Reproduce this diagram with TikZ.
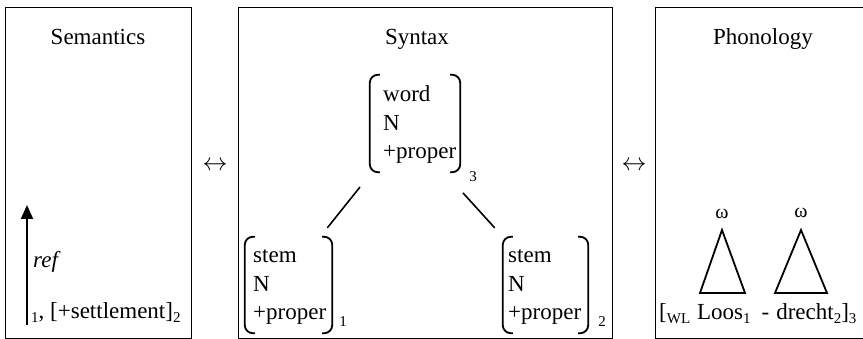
\documentclass[tikz,border=0pt]{standalone}
\usepackage{fontspec}
\setmainfont{Liberation Serif}
\usetikzlibrary{calc,arrows.meta}
\newcommand\sub[1]{\raisebox{-3.5pt}{\fontsize{15}{15}\selectfont #1}}
\newcommand\featbrackets[1]{%
  \draw[brk] ($(#1.north west)+(10,0)$) -- (#1.north west) -- (#1.south west) -- ($(#1.south west)+(10,0)$);
  \draw[brk] ($(#1.north east)+(-10,0)$) -- (#1.north east) -- (#1.south east) -- ($(#1.south east)+(-10,0)$);}
\begin{document}
\begin{tikzpicture}[x=1pt,y=-1pt,
  every node/.style={inner sep=0pt,font=\fontsize{23}{28.5}\selectfont},
  panel/.style={draw,line width=0.9pt},
  brk/.style={line width=1.8pt,rounded corners=8pt},
  featbox/.style={minimum width=#1,minimum height=96pt},
  treeline/.style={line width=1.6pt},
  subnum/.style={font=\fontsize{15}{15}\selectfont},
  title/.style={anchor=base},
  lines/.style={anchor=base west},
  corr/.style={font=\fontsize{26}{26}\selectfont},
  omega/.style={font=\fontsize{20}{20}\selectfont},
  tri/.style={line width=1.8pt,line join=miter},
  refarrow/.style={line width=2.2pt,-{Triangle[length=14pt,width=12pt]}}]
\useasboundingbox (0,0) rectangle (863,339);
% panels
\draw[panel] (5,7) rectangle (191,338);
\draw[panel] (238,7) rectangle (612,338);
\draw[panel] (875,7) -- (655,7) -- (655,338) -- (875,338);
% titles
\node[title] (tsem) at (98,45) {Semantics};
\node[title] (tsyn) at (417,45) {Syntax};
\node[title] (tpho) at (763,45) {Phonology};
% correspondence arrows
\node[corr] (lr1) at (215,166) {$\leftrightarrow$};
\node[corr] (lr2) at (634,166) {$\leftrightarrow$};
% semantics
\coordinate (refbot) at (27,325);
\coordinate (reftop) at (27,205);
\draw[refarrow] (refbot) -- (reftop);
\node[lines] (reflab) at (33,268) {\itshape ref};
\node[lines] (semtxt) at (31,319) {\sub{1}, [+settlement]\sub{2}};
% syntax
\node[featbox=90pt,minimum height=97pt] (w) at (415,123.5) {};
\node[lines] (wtxt) at (383,102) {\begin{tabular}[t]{@{}l@{}}word\\N\\+proper\end{tabular}};
\node[subnum] (w3) at (473,177) {3};
\featbrackets{w}
\node[featbox=87pt] (s1) at (288.5,285) {};
\node[lines] (s1txt) at (253,263) {\begin{tabular}[t]{@{}l@{}}stem\\N\\+proper\end{tabular}};
\node[subnum] (s1n) at (343,322) {1};
\featbrackets{s1}
\node[featbox=85pt] (s2) at (545.5,285) {};
\node[lines] (s2txt) at (508,263) {\begin{tabular}[t]{@{}l@{}}stem\\N\\+proper\end{tabular}};
\node[subnum] (s2n) at (602,322) {2};
\featbrackets{s2}
\draw[treeline,shorten <=19pt,shorten >=11.4pt] ($(w.south west)+(2,0)$) -- ($(s1.north east)+(-12,0)$);
\draw[treeline,shorten <=28pt,shorten >=12pt] ($(w.south east)+(-16,0)$) -- (s2.north west);
% phonology
\node[omega] (om1) at (722,214) {ω};
\node[omega] (om2) at (801,213) {ω};
\draw[tri] (722,230) -- (700,293) -- (745,293) -- cycle;
\draw[tri] (801,230) -- (775,293) -- (827,293) -- cycle;
\node[lines] (photxt) at (659,320) {[\sub{WL}\hspace{7pt}Loos\sub{1}\hspace{11pt}-\hspace{7pt}drecht\sub{2}]\sub{3}};
\end{tikzpicture}
\end{document}
